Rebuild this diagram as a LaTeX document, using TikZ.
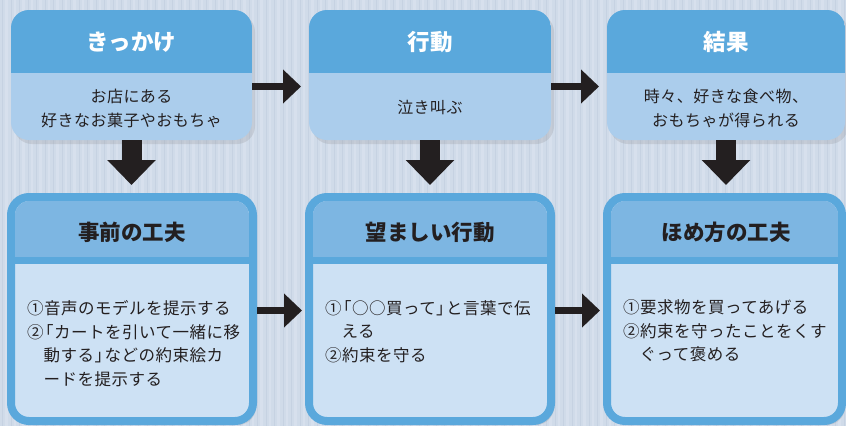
\documentclass[tikz,border=0pt]{standalone}
\usepackage{fontspec}
\setmainfont{Noto Sans CJK JP}
\usetikzlibrary{arrows.meta,shadows}
\definecolor{bg}{HTML}{D0DBE9}
\definecolor{stripe}{HTML}{C6D2E2}
\definecolor{stripelt}{HTML}{D7E0ED}
\definecolor{hdr}{HTML}{5AA8DC}
\definecolor{tbody}{HTML}{ABCDEC}
\definecolor{bhdr}{HTML}{7DB6E2}
\definecolor{bbody}{HTML}{CDE1F4}
\definecolor{ink}{HTML}{231F20}
\newcommand\obr{\kern-0.4em「}
\newcommand\cbr{」\kern-0.4em}
\tikzset{
  boxshadow/.style={drop shadow={opacity=0.2, shadow xshift=3pt, shadow yshift=-4pt}},
  topbox/.style={fill=tbody, rounded corners=18pt, inner sep=0pt, outer sep=0pt,
    minimum height=130pt, boxshadow},
  botbox/.style={fill=bbody, draw=hdr, line width=8pt, rounded corners=18pt, inner sep=0pt,
    minimum height=224pt, boxshadow},
  toptitle/.style={text=white, font=\fontsize{22.5}{26}\selectfont\bfseries, inner sep=0pt},
  bottitle/.style={text=ink, font=\fontsize{21.5}{26}\selectfont\bfseries, inner sep=0pt},
  topbody/.style={text=ink, align=center, inner sep=0pt,
    font=\fontsize{16}{23.5}\selectfont\addfontfeature{LetterSpace=3}},
  botbody/.style={text=ink, align=left, inner sep=0pt, anchor=west,
    font=\fontsize{16.5}{23.5}\selectfont\addfontfeature{LetterSpace=3}},
  harrow/.style={draw=ink, line width=7pt, -{Triangle[length=18pt,width=33pt]}},
  varrow/.style={draw=ink, line width=20pt, -{Triangle[length=25pt,width=47pt]}},
}
\begin{document}
\begin{tikzpicture}[x=1pt,y=-1pt]
\useasboundingbox (0,0) rectangle (846,426);
% background
\fill[bg] (0,0) rectangle (846,426);
\foreach \x in {2,10.5,...,846} {
  \fill[stripe] (\x,0) rectangle (\x+1,426);
  \fill[stripelt] (\x+3,0) rectangle (\x+5.5,426);
}
% top boxes
\node[topbox, minimum width=241pt] (t1) at (131.5,75) {};
\node[topbox, minimum width=242pt] (t2) at (430,75) {};
\node[topbox, minimum width=238pt] (t3) at (726,75) {};
\foreach \a/\b in {11/252, 309/551, 607/845} {
  \begin{scope}
    \clip[rounded corners=18pt] (\a,10) rectangle (\b,140);
    \fill[hdr] (\a,10) rectangle (\b,73);
  \end{scope}
}
% bottom boxes
\node[botbox, minimum width=242pt] (b1) at (132,309) {};
\node[botbox, minimum width=242pt] (b2) at (430,309) {};
\node[botbox, minimum width=235pt] (b3) at (724.5,309) {};
\foreach \a/\b in {11/253, 309/551, 607/842} {
  \begin{scope}
    \clip[rounded corners=14pt] (\a+4,201) rectangle (\b-4,417);
    \fill[bhdr] (\a+4,201) rectangle (\b-4,257);
  \end{scope}
  \draw[hdr, line width=7pt] (\a,260.5) -- (\b,260.5);
}
% titles
\node[toptitle] (t1h) at (131.5,42) {きっかけ};
\node[toptitle] (t2h) at (430,42) {行動};
\node[toptitle] (t3h) at (726,42) {結果};
\node[bottitle] (b1h) at (132,232) {事前の工夫};
\node[bottitle] (b2h) at (430,232) {望ましい行動};
\node[bottitle] (b3h) at (726,232) {ほめ方の工夫};
% top texts
\node[topbody] (t1b) at (131.5,108.5) {お店にある\\好きなお菓子やおもちゃ};
\node[topbody] (t2b) at (430,108) {泣き叫ぶ};
\node[topbody] (t3b) at (726,108.5) {時々、好きな食べ物、\\おもちゃが得られる};
% bottom texts
\node[botbody] (b1b) at (27,343.5) {①音声のモデルを提示する\\②\obr カートを引いて一緒に移\\\phantom{②}動する\cbr などの約束絵カ\\\phantom{②}ードを提示する};
\node[botbody] (b2b) at (325,331.5) {①\obr ○○買って\cbr と言葉で伝\\\phantom{①}える\\②約束を守る};
\node[botbody] (b3b) at (623,331) {①要求物を買ってあげる\\②約束を守ったことをくす\\\phantom{②}ぐって褒める};
% arrows
\draw[harrow, shorten >=8pt] ([yshift=-11.5pt]t1.east) -- ([yshift=-11.5pt]t2.west);
\draw[harrow, shorten >=8pt] ([yshift=-11.5pt]t2.east) -- ([yshift=-11.5pt]t3.west);
\draw[harrow, shorten >=3pt] ([yshift=-1.5pt]b1.east) -- ([yshift=-1.5pt]b2.west);
\draw[harrow, shorten >=3pt] ([yshift=-1.5pt]b2.east) -- ([yshift=-1.5pt]b3.west);
\draw[varrow, shorten >=8pt] (t1.south) -- (t1.south |- b1.north);
\draw[varrow, shorten >=8pt] (t2.south) -- (t2.south |- b2.north);
\draw[varrow, shorten >=8pt] (t3.south) -- (t3.south |- b3.north);
\end{tikzpicture}
\end{document}
